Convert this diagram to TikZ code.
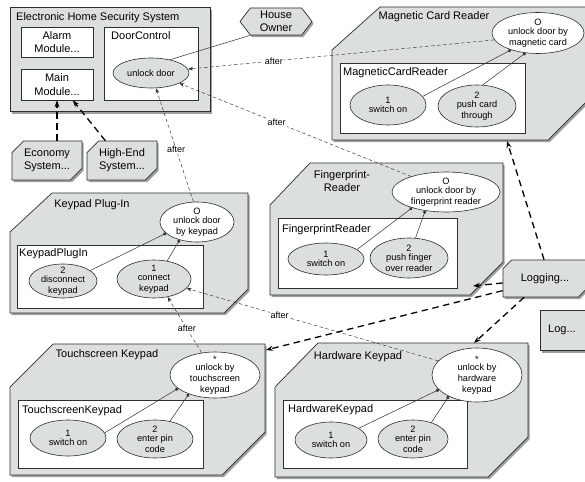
\documentclass[tikz,border=0pt]{standalone}
\usepackage{fontspec}
\setmainfont{Liberation Sans}
\usetikzlibrary{shapes.geometric,shapes.misc,shapes.symbols,shadows,arrows.meta}

\definecolor{boxgray}{HTML}{DCDFDF}
\definecolor{inkgray}{HTML}{2E2E2E}

\newcommand{\headfont}{\fontsize{11}{13.2}\selectfont}
\newcommand{\actfont}{\fontsize{9.2}{10.8}\selectfont}
\newcommand{\tagfont}{\fontsize{9}{10}\selectfont}

\tikzset{
  boxshadow/.style={drop shadow={shadow xshift=1.6pt,shadow yshift=-2.2pt,opacity=0.5,fill=black!75}},
  pkgbox/.style={draw=inkgray, line width=0.7pt, fill=boxgray, boxshadow},
  innerbox/.style={draw=inkgray, line width=0.6pt, fill=white},
  headtext/.style={font=\headfont, inner sep=0pt, align=center},
  act/.style={ellipse, draw=inkgray, line width=0.6pt, fill=boxgray, inner sep=0pt, align=center, font=\actfont},
  goal/.style={act, fill=white},
  featbox/.style={chamfered rectangle, chamfered rectangle corners={north west,south east},
    chamfered rectangle xsep=8pt, pkgbox, inner sep=0pt, align=center, font=\headfont},
  part/.style={draw=inkgray, line width=0.5pt, -{Circle[length=3.2pt]}},
  after/.style={draw=inkgray, line width=0.45pt, dash pattern=on 3.5pt off 2.5pt,
    -{Stealth[length=5pt,width=3.6pt]}},
  aftertag/.style={fill=white, inner sep=1pt, font=\tagfont},
  dep/.style={draw=black, line width=1.3pt, dash pattern=on 6.5pt off 4.5pt,
    -{Stealth[length=7pt,width=5pt]}},
}

\begin{document}
\begin{tikzpicture}[x=1pt,y=-1pt]
\useasboundingbox (0,0) rectangle (585,481);

% ---------- Electronic Home Security System ----------
\node[pkgbox, rectangle, minimum width=200pt, minimum height=104pt, anchor=north west, inner sep=0pt] (ess) at (10,7) {};
\node[headtext, anchor=west] (esst) at (16,18) {Electronic Home Security System};
\node[innerbox, rectangle, minimum width=72pt, minimum height=30pt, inner sep=0pt, align=center, font=\headfont] (alarm) at (57,42) {Alarm\\Module...};
\node[innerbox, rectangle, minimum width=72pt, minimum height=31pt, inner sep=0pt, align=center, font=\headfont] (mainmod) at (57,84.5) {Main\\Module...};
\node[innerbox, rectangle, minimum width=94pt, minimum height=73pt, inner sep=0pt] (door) at (151,63.5) {};
\node[headtext, anchor=west] (doort) at (111,36) {DoorControl};
\node[act, minimum width=76pt, minimum height=30pt] (udoor) at (151,73) {unlock door};

% ---------- House Owner ----------
\node[signal, signal to=west and east, signal pointer angle=105, pkgbox, minimum width=72pt, minimum height=27pt,
      inner sep=0pt, align=center, font=\headfont] (owner) at (276,21.5) {House\\Owner};
\draw[draw=inkgray, line width=0.5pt] (udoor.35) -- (owner.south west);

% ---------- Variants ----------
\node[featbox, minimum width=70pt, minimum height=39pt] (econ) at (47,160.5) {Economy\\System...};
\node[featbox, minimum width=70pt, minimum height=39pt] (highend) at (122,160.5) {High-End\\System...};
\draw[dep] (econ.north -| mainmod.south) -- (mainmod.south);
\draw[dep] (highend.130) -- (mainmod.-45);

% ---------- Magnetic Card Reader ----------
\path[pkgbox] (380,7) -- (592,7) -- (592,96) -- (548,140) -- (332,140) -- (332,50) -- cycle;
\coordinate (mcrbase) at (507,141);
\node[headtext] (mcrt) at (434,17) {Magnetic Card Reader};
\path[innerbox] (340,63) rectangle (525,133);
\node[headtext, anchor=west] (mcrint) at (343,73) {MagneticCardReader};
\node[goal, minimum width=92pt, minimum height=41pt, inner ysep=-2pt] (mtop) at (538,33) {O\\[-1.5pt]unlock door by\\magnetic card};
\node[act, minimum width=76pt, minimum height=40pt] (msw) at (388,105) {1\\[-1.5pt]switch on};
\node[act, minimum width=78pt, minimum height=42pt, inner ysep=-2pt] (mpush) at (477,106) {2\\[-1.5pt]push card\\through};
\draw[part] (msw.14) -- (mtop.212);
\draw[part] (mpush.75) -- (mtop.238);

% ---------- Fingerprint Reader ----------
\path[pkgbox] (310,163) -- (503,163) -- (503,262) -- (470,295) -- (270,295) -- (270,205) -- cycle;
\coordinate (fprcorner) at (473,286);
\node[headtext] (fprt) at (342,181) {Fingerprint-\\Reader};
\path[innerbox] (278,218) rectangle (457,288);
\node[headtext, anchor=west] (fprint) at (282,230) {FingerprintReader};
\node[goal, minimum width=108pt, minimum height=40pt, inner ysep=-2pt] (ftop) at (446,192) {O\\[-1.5pt]unlock door by\\fingerprint reader};
\node[act, minimum width=76pt, minimum height=32pt, inner ysep=-2pt] (fsw) at (326,259) {1\\[-1.5pt]switch on};
\node[act, minimum width=78pt, minimum height=40pt, inner ysep=-2pt] (fpush) at (409,258) {2\\[-1.5pt]push finger\\over reader};
\draw[part] (fsw.17) -- (ftop.205);
\draw[part] (fpush.72) -- (ftop.222);

% ---------- Keypad Plug-In ----------
\path[pkgbox] (52,193) -- (248,193) -- (248,289) -- (224,313) -- (10,313) -- (10,232) -- cycle;
\node[headtext] (kpt) at (92,205) {Keypad Plug-In};
\path[innerbox] (17,245) rectangle (203,308);
\node[headtext, anchor=west] (kpint) at (19,254) {KeypadPlugIn};
\node[goal, minimum width=74pt, minimum height=40pt, inner ysep=-2pt] (ktop) at (197,222) {O\\[-1.5pt]unlock door\\by keypad};
\node[act, minimum width=68pt, minimum height=34pt, inner ysep=-3pt] (kdis) at (63,281) {2\\[-1.5pt]disconnect\\keypad};
\node[act, minimum width=74pt, minimum height=38pt, inner ysep=-2pt] (kconn) at (154,279) {1\\[-1.5pt]connect\\keypad};
\draw[part] (kdis.21) -- (ktop.200);
\draw[part] (kconn.54) -- (ktop.226);

% ---------- Touchscreen Keypad ----------
\path[pkgbox] (53,344) -- (265,344) -- (265,432) -- (222,475) -- (10,475) -- (10,387) -- cycle;
\coordinate (tkcorner) at (266,350);
\node[headtext] (tkt) at (107,355) {Touchscreen Keypad};
\path[innerbox] (18,400) rectangle (203,468);
\node[headtext, anchor=west] (tkint) at (22,411) {TouchscreenKeypad};
\node[goal, minimum width=90pt, minimum height=46pt, inner ysep=-6pt] (ttop) at (215,375) {*\\[-2.5pt]unlock by\\touchscreen\\keypad};
\node[act, minimum width=76pt, minimum height=36pt] (tsw) at (68,438) {1\\[-1.5pt]switch on};
\node[act, minimum width=76pt, minimum height=38pt, inner ysep=-2pt] (tpin) at (155,439) {2\\[-1.5pt]enter pin\\code};
\draw[part] (tsw.8) -- (ttop.200);
\draw[part] (tpin.50) -- (ttop.216);

% ---------- Hardware Keypad ----------
\path[pkgbox] (318,343) -- (528,343) -- (528,437) -- (488,477) -- (275,477) -- (275,387) -- cycle;
\coordinate (hkcorner) at (474,343);
\node[headtext] (hkt) at (358,357) {Hardware Keypad};
\path[innerbox] (283,400) rectangle (467,468);
\node[headtext, anchor=west] (hkint) at (288,410) {HardwareKeypad};
\node[goal, minimum width=90pt, minimum height=54pt, inner ysep=-4pt] (htop) at (477,375) {*\\[-2.5pt]unlock by\\hardware\\keypad};
\node[act, minimum width=72pt, minimum height=36pt] (hsw) at (331,440) {1\\[-1.5pt]switch on};
\node[act, minimum width=70pt, minimum height=38pt, inner ysep=-2pt] (hpin) at (413,439) {2\\[-1.5pt]enter pin\\code};
\draw[part] (hsw.23) -- (htop.201);
\draw[part] (hpin.42) -- (htop.217);

% ---------- Logging ----------
\node[featbox, minimum width=84pt, minimum height=37pt] (logging) at (545,278.5) {Logging...};
\node[pkgbox, rectangle, minimum width=60pt, minimum height=40pt, anchor=north west, inner sep=0pt] (logbox) at (540,310) {};
\node[headtext, anchor=west] (logt) at (548,330) {Log...};

\draw[dep] (logging.93) -- (mcrbase);
\draw[dep] (logging.186) -- (fprcorner);
\draw[dep] (logging.196) -- (tkcorner);
\draw[dep] (logging.222) -- (hkcorner);

% ---------- ordering of the unlock steps ----------
\draw[after] (mtop.189) -- node[aftertag, pos=0.72] {after} (udoor.6);
\draw[after] (ftop.156) -- node[aftertag, pos=0.58] {after} (udoor.340);
\draw[after] (ktop.100) -- node[aftertag, pos=0.46] {after} (udoor.288);
\draw[after] (ttop.121) -- node[aftertag, pos=0.43] {after} (kconn.307);
\draw[after] (htop.160) -- node[aftertag, pos=0.63] {after} (kconn.344);
\end{tikzpicture}
\end{document}
